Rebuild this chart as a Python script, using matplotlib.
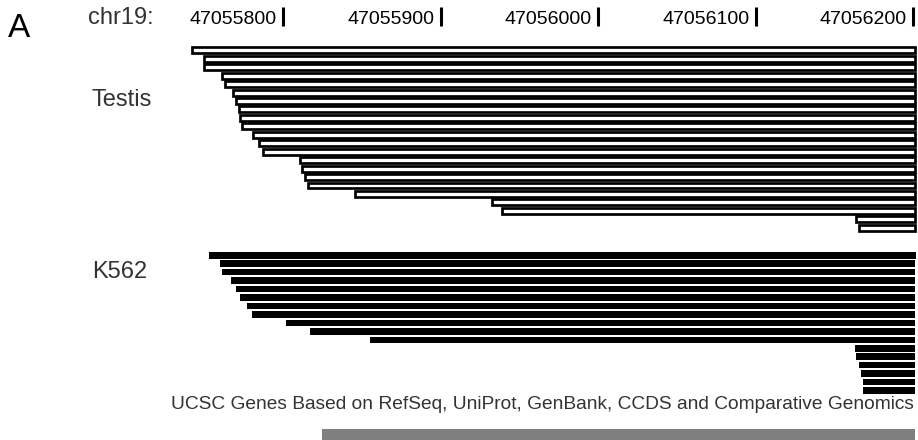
import matplotlib.pyplot as plt

plt.rcParams['font.family'] = ['Liberation Sans', 'DejaVu Sans']

# genome browser view, chr19
chrom = 'chr19:'
tick_pos = [47055800, 47055900, 47056000, 47056100, 47056200]

# Testis reads (start, end)
testis_start = [47055742, 47055750, 47055750, 47055761, 47055763, 47055768, 47055770,
                47055772, 47055773, 47055774, 47055781, 47055785, 47055787, 47055811,
                47055812, 47055814, 47055816, 47055846, 47055933, 47055939, 47056164,
                47056166]
testis_end = [47056201] * len(testis_start)

# K562 reads (start, end)
k562_start = [47055753, 47055760, 47055761, 47055767, 47055770, 47055773, 47055777,
              47055780, 47055802, 47055817, 47055855, 47056163, 47056164, 47056166,
              47056167, 47056168, 47056168]
k562_end = [47056202] + [47056201] * (len(k562_start) - 1)

# UCSC gene track (exon piece visible at bottom)
gene_start = 47055825
gene_end = 47056201
gene_label = 'UCSC Genes Based on RefSeq, UniProt, GenBank, CCDS and Comparative Genomics'

# pixel layout of the browser image
W, H = 918, 440
px_per_bp = 1.575
x0_px = 283          # pixel of 47055800
row_px = 8.45        # track row spacing
row0_px = 50.3       # centre of first testis row

fig = plt.figure(figsize=(W / 100, H / 100), dpi=100)
ax = fig.add_axes([0, 0, 1, 1])
ax.set_xlim(tick_pos[0] - x0_px / px_per_bp, tick_pos[0] + (W - x0_px) / px_per_bp)
ax.set_ylim((H - row0_px) / row_px, -row0_px / row_px)
ax.axis('off')

# testis: open boxes
t_rows = list(range(len(testis_start)))
ax.barh(t_rows, [e - s for s, e in zip(testis_start, testis_end)], left=testis_start,
        height=0.71, color='white', edgecolor='black', linewidth=1.95)

# K562: filled boxes
k_first = (255.3 - row0_px) / row_px
k_rows = [k_first + i for i in range(len(k562_start))]
ax.barh(k_rows, [e - s for s, e in zip(k562_start, k562_end)], left=k562_start,
        height=0.77, color='black', linewidth=0)

# gene track piece
g_top = (429 - row0_px) / row_px
ax.barh(g_top + 1.5, gene_end - gene_start, left=gene_start, height=3.0,
        color='#7f7f7f', linewidth=0)

# position ruler
tick_top = (7 - row0_px) / row_px
tick_bot = (26 - row0_px) / row_px
ax.vlines(tick_pos, tick_top, tick_bot, color='black', linewidth=2.2)
for p in tick_pos:
    ax.text(p - 6 / px_per_bp, (24 - row0_px) / row_px, str(p), ha='right',
            va='baseline', fontsize=14, color='black')

fig.text(88 / W, 1 - 24 / H, chrom, fontsize=17, color='#333333', va='baseline')
fig.text(8 / W, 1 - 37 / H, 'A', fontsize=24, color='black', va='baseline')
fig.text(92 / W, 1 - 100 / H, 'Testis', fontsize=17, color='#333333', va='center')
fig.text(92 / W, 1 - 272 / H, 'K562', fontsize=17, color='#333333', va='center')
fig.text(914 / W, 1 - 404 / H, gene_label, fontsize=13.75, color='#333333',
         ha='right', va='center')

fig.savefig('out.png', dpi=100)
